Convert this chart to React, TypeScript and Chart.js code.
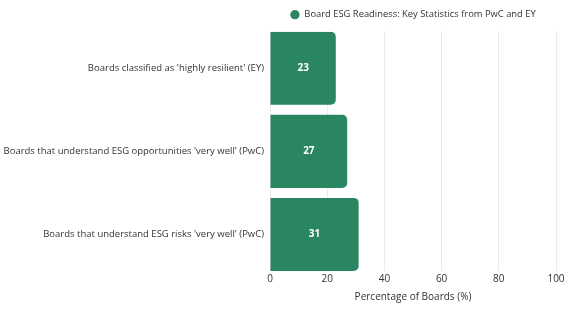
import React, { useEffect, useRef } from "react";
import { Chart, registerables } from "chart.js";
Chart.register(...registerables);

const categories = [
  "Boards classified as 'highly resilient' (EY)",
  "Boards that understand ESG opportunities 'very well' (PwC)",
  "Boards that understand ESG risks 'very well' (PwC)",
];
const values = [23, 27, 31];
const seriesLabel = "Board ESG Readiness: Key Statistics from PwC and EY";
const xTitle = "Percentage of Boards (%)";
const xTicksMax = 100;
const xStep = 20;

const barColor = "#2a8660";

const valueLabels = {
  id: "valueLabels",
  afterDatasetsDraw(chart: any) {
    const { ctx } = chart;
    const meta = chart.getDatasetMeta(0);
    ctx.save();
    ctx.fillStyle = "#ffffff";
    ctx.font = "bold 10px 'Open Sans'";
    ctx.textAlign = "center";
    ctx.textBaseline = "middle";
    meta.data.forEach((bar: any, i: number) => {
      const x = (bar.x + bar.base) / 2;
      ctx.fillText(String(values[i]), x, bar.y);
    });
    ctx.restore();
  },
};

const legendSpace = {
  id: "legendSpace",
  beforeLayout(chart: any) {
    const lg = chart.legend;
    if (lg && !lg._spacePatched) {
      const orig = lg.fit.bind(lg);
      lg.fit = () => {
        orig();
        lg.height += 2.3;
      };
      lg._spacePatched = true;
    }
  },
};

export default function App() {
  const ref = useRef<HTMLCanvasElement>(null);
  useEffect(() => {
    if (!ref.current) return;
    Chart.defaults.font.family = "'Open Sans'";
    const chart = new Chart(ref.current, {
      type: "bar",
      data: {
        datasets: [
          {
            label: seriesLabel,
            data: values.map((v, i) => ({ x: v, y: i })),
            backgroundColor: barColor,
            borderWidth: 0,
            borderRadius: 5,
            borderSkipped: "start",
            barPercentage: 1,
            categoryPercentage: 0.88,
          },
        ],
      },
      options: {
        indexAxis: "y",
        animation: false,
        responsive: false,
        maintainAspectRatio: false,
        layout: { padding: { left: 0, right: 27, top: 0, bottom: 6 } },
        plugins: {
          legend: {
            position: "top",
            fullSize: false,
            labels: {
              usePointStyle: true,
              pointStyle: "circle",
              boxHeight: 6.6,
              color: "#333",
              font: { size: 9.4 },
            },
          },
          tooltip: { enabled: false },
        },
        scales: {
          x: {
            type: "linear",
            min: 0,
            max: xTicksMax,
            ticks: { stepSize: xStep, color: "#333", font: { size: 10 }, padding: 2.5 },
            grid: { color: "#ebebeb", drawTicks: false },
            border: { display: false },
            title: { display: true, text: xTitle, color: "#333", font: { size: 10 }, padding: { top: 3, bottom: 0 } },
          },
          y: {
            type: "linear",
            reverse: true,
            offset: false,
            min: -0.44,
            max: categories.length - 1 + 0.44,
            afterBuildTicks: (s: any) => {
              s.ticks = categories.map((_, i) => ({ value: i }));
            },
            afterFit: (s: any) => {
              s.width = 270;
            },
            ticks: {
              color: "#333",
              font: { size: 9.5 },
              padding: 6,
              autoSkip: false,
              callback: (v: any) => categories[Math.round(Number(v))] ?? "",
            },
            grid: { display: false, drawTicks: false, offset: false },
            border: { display: false },
          },
        },
      },
      plugins: [valueLabels, legendSpace],
    });
    return () => chart.destroy();
  }, []);
  return (
    <div style={{ position: "fixed", left: 0, top: 0, width: 583, height: 309 }}>
      <canvas ref={ref} width={583} height={309} style={{ width: 583, height: 309 }} />
    </div>
  );
}
